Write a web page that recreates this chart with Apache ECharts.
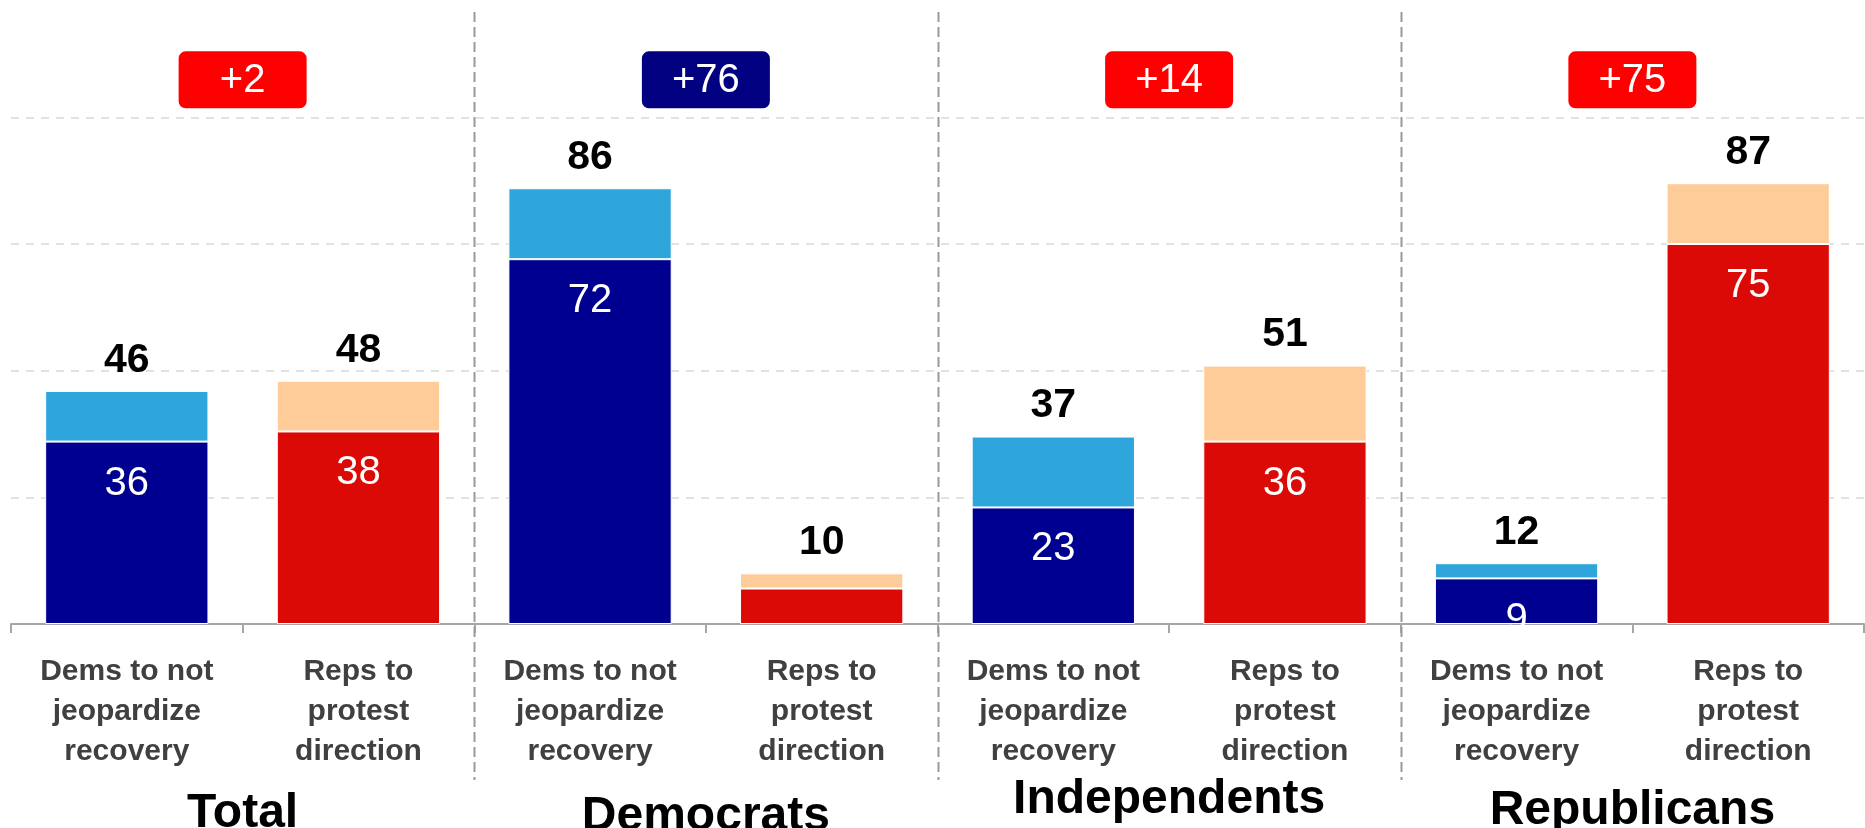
<!DOCTYPE html>
<html>
<head>
<meta charset="utf-8">
<script src="https://cdn.jsdelivr.net/npm/echarts@6/dist/echarts.min.js"></script>
<style>
html,body{margin:0;padding:0;background:#fff;}
#c{width:1865px;height:828px;}
</style>
</head>
<body>
<div id="c"></div>
<script>
// ---- data ----
const categories = [
  'Dems to not\njeopardize\nrecovery', 'Reps to\nprotest\ndirection',
  'Dems to not\njeopardize\nrecovery', 'Reps to\nprotest\ndirection',
  'Dems to not\njeopardize\nrecovery', 'Reps to\nprotest\ndirection',
  'Dems to not\njeopardize\nrecovery', 'Reps to\nprotest\ndirection'
];
const groups = ['Total', 'Democrats', 'Independents', 'Republicans'];
const strongValues = [36, 38, 72, 7, 23, 36, 9, 75];
const totalValues = [46, 48, 86, 10, 37, 51, 12, 87];
const marginLabels = ['+2', '+76', '+14', '+75'];
const marginLeaders = ['rep', 'dem', 'rep', 'rep'];

// ---- styles ----
const FONT = '"Liberation Sans", Arial, sans-serif';
const darkColors = { dem: '#000090', rep: '#DC0A06' };
const lightColors = { dem: '#2EA6DC', rep: '#FECC99' };
const badgeColors = { dem: '#000080', rep: '#FF0000' };
const groupLabelDrop = [14, 17, 0, 11]; // vertical nudge (px) of each group title
const partyOf = i => (i % 2 === 0 ? 'dem' : 'rep');
const BADGE_Y = 107.4;

const chart = echarts.init(document.getElementById('c'), null, { renderer: 'canvas' });

const option = {
  animation: false,
  backgroundColor: '#fff',
  grid: { left: 11, right: 1, top: 16, bottom: 204, containLabel: false, outerBoundsMode: 'none' },
  xAxis: [
    {
      type: 'category',
      data: categories,
      position: 'bottom',
      axisLine: { show: true, lineStyle: { color: '#A6A6A6', width: 2 } },
      axisTick: { show: true, length: 9, lineStyle: { color: '#A6A6A6', width: 2 } },
      axisLabel: {
        interval: 0, margin: 28, fontFamily: FONT, fontSize: 30, fontWeight: 'bold',
        color: '#404040', lineHeight: 40, align: 'center'
      },
      splitLine: { show: false }
    },
    {
      type: 'category',
      data: groups.map((g, i) => ({
        value: g,
        textStyle: { padding: [groupLabelDrop[i], 0, 0, 0] }
      })),
      position: 'bottom',
      offset: 0,
      axisLine: { show: false },
      axisTick: { show: false },
      axisLabel: {
        interval: 0, margin: 152, fontFamily: FONT, fontSize: 48, fontWeight: 'bold',
        color: '#000', lineHeight: 48
      },
      splitLine: { show: false }
    }
  ],
  yAxis: {
    type: 'value',
    min: 0, max: 120, interval: 25,
    axisLine: { show: false },
    axisTick: { show: false },
    axisLabel: { show: false },
    splitLine: {
      show: true, showMaxLine: false,
      lineStyle: { color: '#D9D9D9', width: 1.5, type: [8, 7] }
    }
  },
  series: [
    {
      name: 'strong',
      type: 'bar',
      stack: 'a',
      barWidth: '70.5%',
      itemStyle: { borderColor: '#fff', borderWidth: 1 },
      label: {
        show: true, position: 'insideTop', distance: 22,
        color: '#fff', fontFamily: FONT, fontSize: 40, lineHeight: 40
      },
      data: strongValues.map((v, i) => ({
        value: v,
        itemStyle: { color: darkColors[partyOf(i)] },
        label: { show: v >= 8 }
      }))
    },
    {
      name: 'lean',
      type: 'bar',
      stack: 'a',
      barWidth: '70.5%',
      itemStyle: { borderColor: '#fff', borderWidth: 1 },
      label: {
        show: true, position: 'top', distance: 10,
        color: '#000', fontFamily: FONT, fontSize: 41, fontWeight: 'bold', lineHeight: 41,
        formatter: p => String(totalValues[p.dataIndex])
      },
      data: totalValues.map((t, i) => ({
        value: t - strongValues[i],
        itemStyle: { color: lightColors[partyOf(i)] }
      }))
    },
    {
      name: 'separators',
      type: 'custom',
      clip: false,
      silent: true,
      z: 1,
      data: groups.slice(1).map((g, i) => [2 * i + 1, 0]),
      encode: { x: 0, y: 1 },
      renderItem: function (params, api) {
        const p = api.coord([api.value(0), 0]);
        const w = api.size([1, 0])[0];
        const x = Math.round(p[0] + w / 2) + 0.5;
        return {
          type: 'line',
          shape: { x1: x, y1: 12, x2: x, y2: 780 },
          style: { stroke: '#999', lineWidth: 2, lineDash: [10, 5] }
        };
      }
    },
    {
      name: 'badges',
      type: 'custom',
      clip: false,
      silent: true,
      z: 5,
      data: groups.map((g, i) => [2 * i, i]),
      encode: { x: 0 },
      renderItem: function (params, api) {
        const gi = params.dataIndex;
        const a = api.coord([2 * gi, BADGE_Y]);
        const b = api.coord([2 * gi + 1, BADGE_Y]);
        const cx = (a[0] + b[0]) / 2;
        const cy = a[1];
        const W = 128, H = 57;
        return {
          type: 'group',
          children: [
            {
              type: 'rect',
              shape: { x: cx - W / 2, y: cy - H / 2, width: W, height: H, r: 7 },
              style: { fill: badgeColors[marginLeaders[gi]] }
            },
            {
              type: 'text',
              style: {
                x: cx, y: cy + 1, text: marginLabels[gi],
                align: 'center', verticalAlign: 'middle',
                fill: '#fff', font: '40px ' + FONT
              }
            }
          ]
        };
      }
    }
  ]
};

chart.setOption(option);
</script>
</body>
</html>
